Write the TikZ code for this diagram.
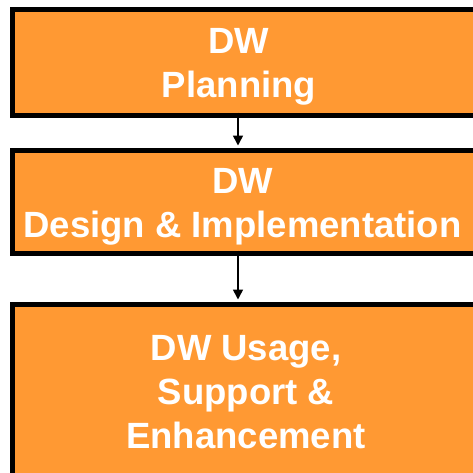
\documentclass[tikz,border=0pt]{standalone}
\usepackage{fontspec}
\setmainfont{Liberation Sans}
\usepackage{xcolor}
\usetikzlibrary{calc}
\usetikzlibrary{positioning}
\usetikzlibrary{arrows.meta}

\definecolor{dworange}{RGB}{255,153,51}

\begin{document}
\begin{tikzpicture}[x=1pt,y=1pt,
      font=\fontsize{36.5}{44}\selectfont\bfseries,
      phase style/.style={rectangle,draw=black,line width=5pt,
        fill=dworange,anchor=north west,minimum width=480pt,inner sep=0pt,
        outer sep=0pt},
      label style/.style={text=white,align=center,inner sep=0pt},
      flow style/.style={line width=1.6pt,
        -{Triangle[width=10pt,length=10pt]},shorten <=-3pt,shorten >=5pt}
      ]
      \useasboundingbox (0,0) rectangle (473,-472);
      \clip (0,0) rectangle (473,-472);

      \node[phase style,minimum height=106pt] (plan) at (12.5,-9.5) {};
      \node[phase style,minimum height=103pt] (design) at (12.5,-150.5) {};
      \node[phase style,minimum height=185pt] (usage) at (12.5,-304.5) {};

      \node[label style] (plantext) at (239,-66.5) {DW\\Planning};
      \node[label style] (designtext) at (242.5,-207) {DW\\Design \& Implementation};
      \node[label style] (usagetext) at (246,-392) {DW Usage,\\Support \&\\Enhancement};

      \coordinate (axis) at (238,0);
      \draw[flow style] (plan.south -| axis) -- (design.north -| axis);
      \draw[flow style] (design.south -| axis) -- (usage.north -| axis);

    \end{tikzpicture}
\end{document}
